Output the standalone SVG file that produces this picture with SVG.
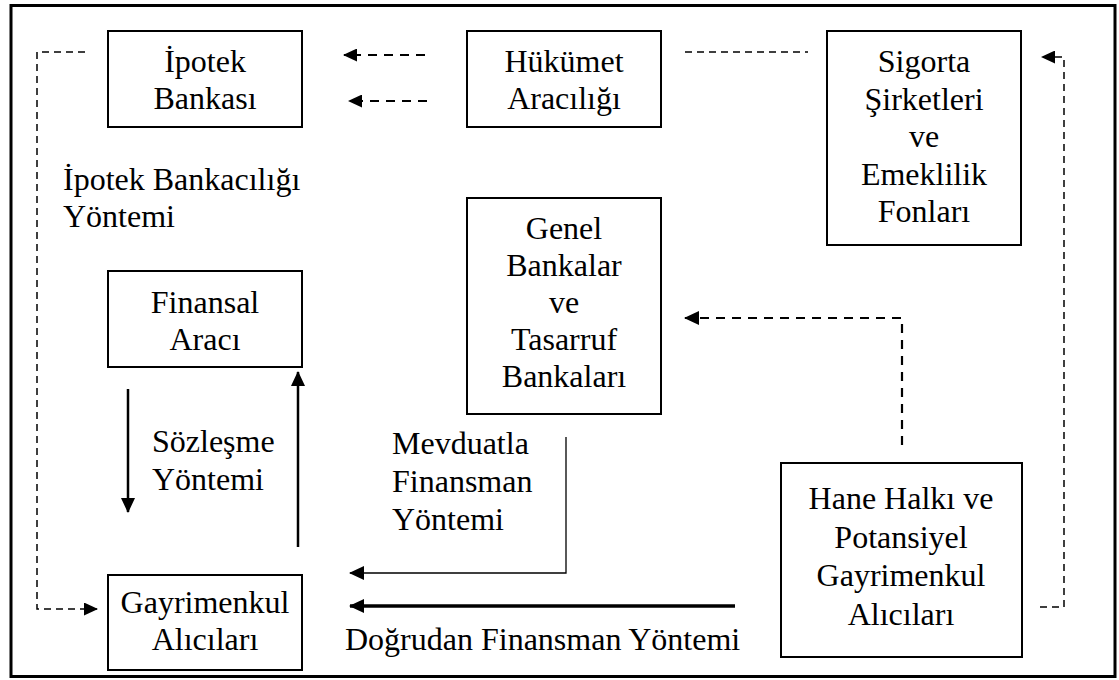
<svg xmlns="http://www.w3.org/2000/svg" width="1119" height="680" viewBox="0 0 1119 680">
  <style>
    .box { fill: #fff; stroke: #000; stroke-width: 2; }
    .t { font-family: "Liberation Serif", "Times New Roman", serif; font-size: 32px; fill: #000; }
    .c { text-anchor: middle; }
    .solid { fill: none; stroke: #000; stroke-width: 2.5; }
    .thin { fill: none; stroke: #000; stroke-width: 1.3; }
    .thick { fill: none; stroke: #000; stroke-width: 3.5; }
    .dash { fill: none; stroke: #000; stroke-width: 2.2; stroke-dasharray: 9 7; }
    .dash-thin { fill: none; stroke: #000; stroke-width: 1.5; stroke-dasharray: 7 5; }
  </style>
  <defs>
    <marker id="head" markerUnits="userSpaceOnUse" markerWidth="16" markerHeight="14" refX="14" refY="7" orient="auto">
      <path d="M0,0 L15,7 L0,14 Z" fill="#000"/>
    </marker>
    <marker id="head-s" markerUnits="userSpaceOnUse" markerWidth="15" markerHeight="13" refX="13" refY="6.5" orient="auto">
      <path d="M0,0 L14,6.5 L0,13 Z" fill="#000"/>
    </marker>
  </defs>

  <rect width="1119" height="680" fill="#fff"/>
  <!-- outer frame -->
  <rect x="11" y="5.5" width="1104" height="671" fill="none" stroke="#000" stroke-width="3"/>

  <!-- connectors -->
  <g id="connectors">
    <!-- Hükümet to Sigorta -->
    <line class="dash-thin" x1="685" y1="52" x2="808" y2="52"/>
    <!-- Hükümet to İpotek Bankası -->
    <line class="dash" x1="425" y1="55" x2="344" y2="55" marker-end="url(#head-s)"/>
    <line class="dash" x1="427" y1="101" x2="349" y2="101" marker-end="url(#head-s)"/>
    <!-- İpotek bankacılığı loop -->
    <polyline class="dash-thin" points="85,52 37,52 37,609 97,609" marker-end="url(#head-s)"/>
    <!-- Sözleşme yöntemi -->
    <line class="solid" x1="128" y1="389" x2="128" y2="512" marker-end="url(#head)"/>
    <line class="solid" x1="298" y1="547" x2="298" y2="372" marker-end="url(#head)"/>
    <!-- Mevduatla finansman -->
    <polyline class="thin" points="566,437 566,573 350,573" marker-end="url(#head)"/>
    <!-- Doğrudan finansman -->
    <line class="thick" x1="735" y1="606" x2="350" y2="606" marker-end="url(#head)"/>
    <!-- Hane halkı to Genel Bankalar -->
    <polyline class="dash" points="902,445 902,318 685,318" marker-end="url(#head)"/>
    <!-- Hane halkı to Sigorta -->
    <polyline class="dash-thin" points="1040,607 1064,607 1064,57 1042,57" marker-end="url(#head-s)"/>
  </g>

  <g id="ipotek-bankasi">
    <rect class="box" x="108" y="31" width="194" height="96"/>
    <text class="t c" x="205" y="72">İpotek</text>
    <text class="t c" x="205" y="109">Bankası</text>
  </g>

  <g id="hukumet-araciligi">
    <rect class="box" x="467" y="31" width="194" height="96"/>
    <text class="t c" x="564" y="72">Hükümet</text>
    <text class="t c" x="564" y="109">Aracılığı</text>
  </g>

  <g id="sigorta">
    <rect class="box" x="827" y="31" width="194" height="214"/>
    <text class="t c" x="924" y="72">Sigorta</text>
    <text class="t c" x="924" y="110">Şirketleri</text>
    <text class="t c" x="924" y="147">ve</text>
    <text class="t c" x="924" y="185">Emeklilik</text>
    <text class="t c" x="924" y="222">Fonları</text>
  </g>

  <g id="genel-bankalar">
    <rect class="box" x="467" y="198" width="194" height="216"/>
    <text class="t c" x="564" y="239">Genel</text>
    <text class="t c" x="564" y="276">Bankalar</text>
    <text class="t c" x="564" y="313">ve</text>
    <text class="t c" x="564" y="350">Tasarruf</text>
    <text class="t c" x="564" y="387">Bankaları</text>
  </g>

  <g id="finansal-araci">
    <rect class="box" x="108" y="271" width="194" height="96"/>
    <text class="t c" x="205" y="313">Finansal</text>
    <text class="t c" x="205" y="350">Aracı</text>
  </g>

  <g id="gayrimenkul-alicilari">
    <rect class="box" x="108" y="575" width="194" height="95"/>
    <text class="t c" x="205" y="613">Gayrimenkul</text>
    <text class="t c" x="205" y="650">Alıcıları</text>
  </g>

  <g id="hane-halki">
    <rect class="box" x="781" y="463" width="241" height="194"/>
    <text class="t c" x="901" y="509">Hane Halkı ve</text>
    <text class="t c" x="901" y="548">Potansiyel</text>
    <text class="t c" x="901" y="586">Gayrimenkul</text>
    <text class="t c" x="901" y="625">Alıcıları</text>
  </g>

  <!-- method labels -->
  <g id="labels">
    <text class="t" x="63" y="190">İpotek Bankacılığı</text>
    <text class="t" x="63" y="227">Yöntemi</text>
    <text class="t" x="152" y="452">Sözleşme</text>
    <text class="t" x="152" y="490">Yöntemi</text>
    <text class="t" x="392" y="454">Mevduatla</text>
    <text class="t" x="392" y="492">Finansman</text>
    <text class="t" x="392" y="530">Yöntemi</text>
    <text class="t" x="345" y="650">Doğrudan Finansman Yöntemi</text>
  </g>
</svg>
